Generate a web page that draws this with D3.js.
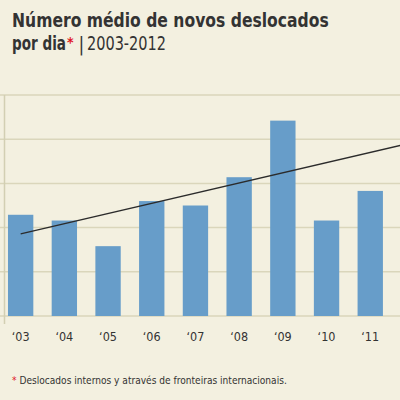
<!DOCTYPE html>
<html><head><meta charset="utf-8">
<script src="https://cdn.jsdelivr.net/npm/d3@7"></script>
<style>html,body{margin:0;padding:0;background:#f3f0e0;overflow:hidden}</style>
</head><body>
<svg id="c" width="400" height="400"></svg>
<script>
const years = [2003,2004,2005,2006,2007,2008,2009,2010,2011,2012];
const barYears = [2003,2004,2005,2006,2007,2008,2009,2010,2011];
const barLabels = ["‘03","‘04","‘05","‘06","‘07","‘08","‘09","‘10","‘11"];
const values = [2.29,2.16,1.58,2.60,2.50,3.14,4.42,2.16,2.83];
const trendYears = [2003,2012];
const trendValues = [1.86,3.93];
const gridTicks = [0,1,2,3,4,5];

const svg = d3.select("#c");
svg.append("rect").attr("width",400).attr("height",400).attr("fill","#f3f0e0");

const x = d3.scaleBand().domain(years).range([-1.2,435.8]).paddingInner(0.42).paddingOuter(0.21);
const y = d3.scaleLinear().domain([0,5]).range([316,95]);

const g = svg.append("g");
g.selectAll("line.grid").data(gridTicks).join("line")
  .attr("x1",0).attr("x2",400)
  .attr("y1",d=>y(d)).attr("y2",d=>y(d))
  .attr("stroke","#dad6bb").attr("stroke-width",1.5);
g.append("line").attr("x1",4.5).attr("x2",4.5).attr("y1",y(5)).attr("y2",y(0)+8)
  .attr("stroke","#d2cfb3").attr("stroke-width",1.5);

g.selectAll("rect.bar").data(barYears).join("rect")
  .attr("x",d=>x(d)).attr("width",x.bandwidth())
  .attr("y",(d,i)=>y(values[i])).attr("height",(d,i)=>y(0)-y(values[i]))
  .attr("fill","#679dc9");

const line = d3.line().x((d,i)=>x(d)+x.bandwidth()/2).y((d,i)=>y(trendValues[i]));
g.append("path").attr("d",line(trendYears)).attr("fill","none")
  .attr("stroke","#2b2b2b").attr("stroke-width",1.3);

const ff = "'DejaVu Sans Condensed', 'Liberation Sans Narrow', sans-serif";
g.selectAll("text.lbl").data(barYears).join("text")
  .attr("x",d=>x(d)+x.bandwidth()/2).attr("y",341)
  .attr("text-anchor","middle")
  .attr("font-family",ff)
  .attr("font-size",12.5).attr("fill","#333")
  .text((d,i)=>barLabels[i]);

function fitText(sel, x0, y0, w){
  const nat = sel.node().getComputedTextLength();
  sel.attr("transform",`translate(${x0},${y0}) scale(${w/nat},1)`);
  return sel;
}

fitText(svg.append("text").attr("font-family",ff).attr("font-size",19)
  .attr("font-weight","bold").attr("fill","#333")
  .text("Número médio de novos deslocados"), 12, 27, 317);
fitText(svg.append("text").attr("font-family",ff).attr("font-size",19)
  .attr("font-weight","bold").attr("fill","#333").text("por dia"), 12, 50, 54);
svg.append("text").attr("x",67).attr("y",47).attr("font-family",ff).attr("font-size",14)
  .attr("font-weight","bold").attr("fill","#e0141e").text("*");
svg.append("text").attr("x",78.5).attr("y",51).attr("font-family",ff).attr("font-size",19)
  .attr("fill","#333").text("|");
fitText(svg.append("text").attr("font-family",ff).attr("font-size",19)
  .attr("fill","#333").text("2003-2012"), 87, 50, 79);

const f = svg.append("text").attr("font-family",ff).attr("font-size",11).attr("fill","#333");
f.append("tspan").attr("fill","#e0141e").text("*");
f.append("tspan").text(" Deslocados internos y através de fronteiras internacionais.");
fitText(f, 12, 384, 275);
</script>
</body></html>
